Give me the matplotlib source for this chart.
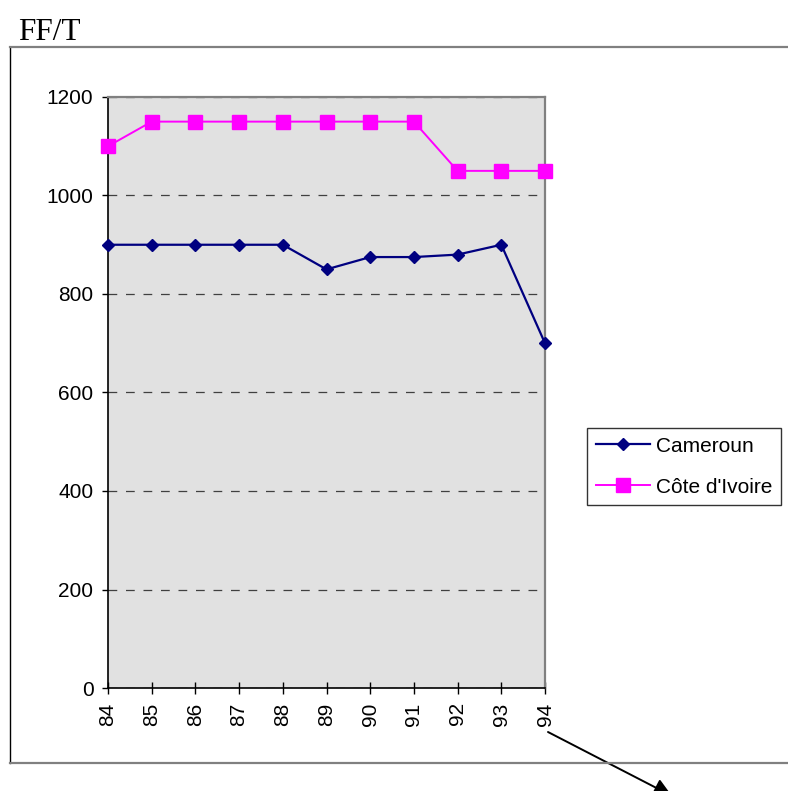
import matplotlib
matplotlib.use("Agg")
import matplotlib.pyplot as plt
from matplotlib.lines import Line2D

years = [84, 85, 86, 87, 88, 89, 90, 91, 92, 93, 94]
year_labels = [str(y) for y in years]
cameroun = [900, 900, 900, 900, 900, 850, 875, 875, 880, 900, 700]
cote_ivoire = [1100, 1150, 1150, 1150, 1150, 1150, 1150, 1150, 1050, 1050, 1050]
y_ticks = [0, 200, 400, 600, 800, 1000, 1200]

plt.rcParams['font.family'] = ['Liberation Sans', 'DejaVu Sans']

W, H = 788, 791
fig = plt.figure(figsize=(W / 100, H / 100), dpi=100)
ax = fig.add_axes([108 / W, 1 - 688 / H, (545 - 108) / W, (688 - 97) / H])
ax.set_facecolor('#e1e1e1')

ax.plot(years, cameroun, color='#000080', lw=1.6, marker='D', ms=6.4,
        label='Cameroun', clip_on=False, zorder=4)
ax.plot(years, cote_ivoire, color='#ff00ff', lw=1.4, marker='s', ms=10,
        label="Côte d'Ivoire", clip_on=False, zorder=4)

ax.set_xlim(84, 94)
ax.set_ylim(0, 1200)
ax.set_xticks(years)
ax.set_xticklabels(year_labels, rotation=90)
ax.set_yticks(y_ticks)
ax.tick_params(axis='x', direction='inout', length=8.6, width=1, pad=6, labelsize=15)
ax.tick_params(axis='y', direction='out', length=4.5, width=1, pad=6, labelsize=15)
ax.yaxis.grid(True, color='#404040', lw=0.9, ls=(0, (7, 7)))
ax.set_axisbelow(True)

ax.spines['left'].set_color('black')
ax.spines['bottom'].set_color('black')
ax.spines['left'].set_linewidth(1.2)
ax.spines['bottom'].set_linewidth(1.2)
ax.spines['top'].set_color('#808080')
ax.spines['right'].set_color('#808080')
ax.spines['top'].set_linewidth(1.6)
ax.spines['right'].set_linewidth(1.6)

leg = ax.legend(loc='upper left', bbox_to_anchor=(587 / W, 1 - 428 / H),
                bbox_transform=fig.transFigure, fontsize=15, frameon=True,
                fancybox=False, shadow=False, handlelength=2.6,
                handletextpad=0.3, labelspacing=1.05, borderpad=0.42,
                borderaxespad=0)
leg.get_frame().set_edgecolor('black')
leg.get_frame().set_linewidth(1)

# outer chart frame
fig.add_artist(Line2D([10 / W, 10 / W], [1 - 47 / H, 1 - 763 / H], color='black', lw=1))
fig.add_artist(Line2D([10 / W, 1], [1 - 47 / H, 1 - 47 / H], color='#808080', lw=1.6))
fig.add_artist(Line2D([10 / W, 1], [1 - 763 / H, 1 - 763 / H], color='#808080', lw=1.6))

fig.text(18 / W, 1 - 40 / H, 'FF/T', family='Liberation Serif', fontsize=22.5,
         ha='left', va='baseline')

ax.annotate('', xy=(672 / W, 1 - 796 / H), xytext=(548 / W, 1 - 732 / H),
            xycoords='figure fraction', textcoords='figure fraction',
            arrowprops=dict(arrowstyle='-|>', color='black', lw=1.4,
                            mutation_scale=28, shrinkA=0, shrinkB=0),
            annotation_clip=False)

fig.savefig('out.png', dpi=100)
